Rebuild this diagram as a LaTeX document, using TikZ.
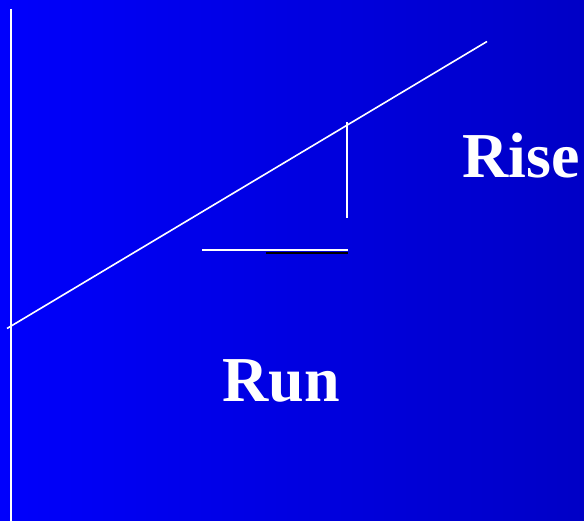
\documentclass[tikz,border=0pt]{standalone}
\usepackage{fontspec}
\setmainfont{Liberation Serif}
\begin{document}
\begin{tikzpicture}[x=1pt,y=-1pt,
  wline/.style={draw=white,line width=1.6pt},
  lbl/.style={text=white,font=\bfseries\fontsize{64}{70}\selectfont,inner sep=0pt,anchor=base west}]
\definecolor{bgL}{RGB}{0,0,252}
\definecolor{bgR}{RGB}{0,0,198}
\useasboundingbox (0,0) rectangle (584,521);
\shade[left color=bgL,right color=bgR] (0,0) rectangle (584,521);
% axis
\coordinate (axT) at (11,9);
\coordinate (axB) at (11,521);
\draw[wline] (axT) -- (axB);
% slope line
\coordinate (sA) at (7,328.5);
\coordinate (sB) at (487,41.5);
\draw[wline] (sA) -- (sB);
% rise
\coordinate (rT) at (347,122);
\coordinate (rB) at (347,218);
\draw[wline] (rT) -- (rB);
% run with shadow
\coordinate (hL) at (202,250);
\coordinate (hR) at (348,250);
\coordinate (shL) at (266,253);
\coordinate (shR) at (348,253);
\draw[black,line width=2.5pt] (shL) -- (shR);
\draw[wline] (hL) -- (hR);
\node[lbl] (rise) at (462.5,178) {Rise};
\node[lbl] (run) at (222.5,402) {Run};
\end{tikzpicture}
\end{document}
